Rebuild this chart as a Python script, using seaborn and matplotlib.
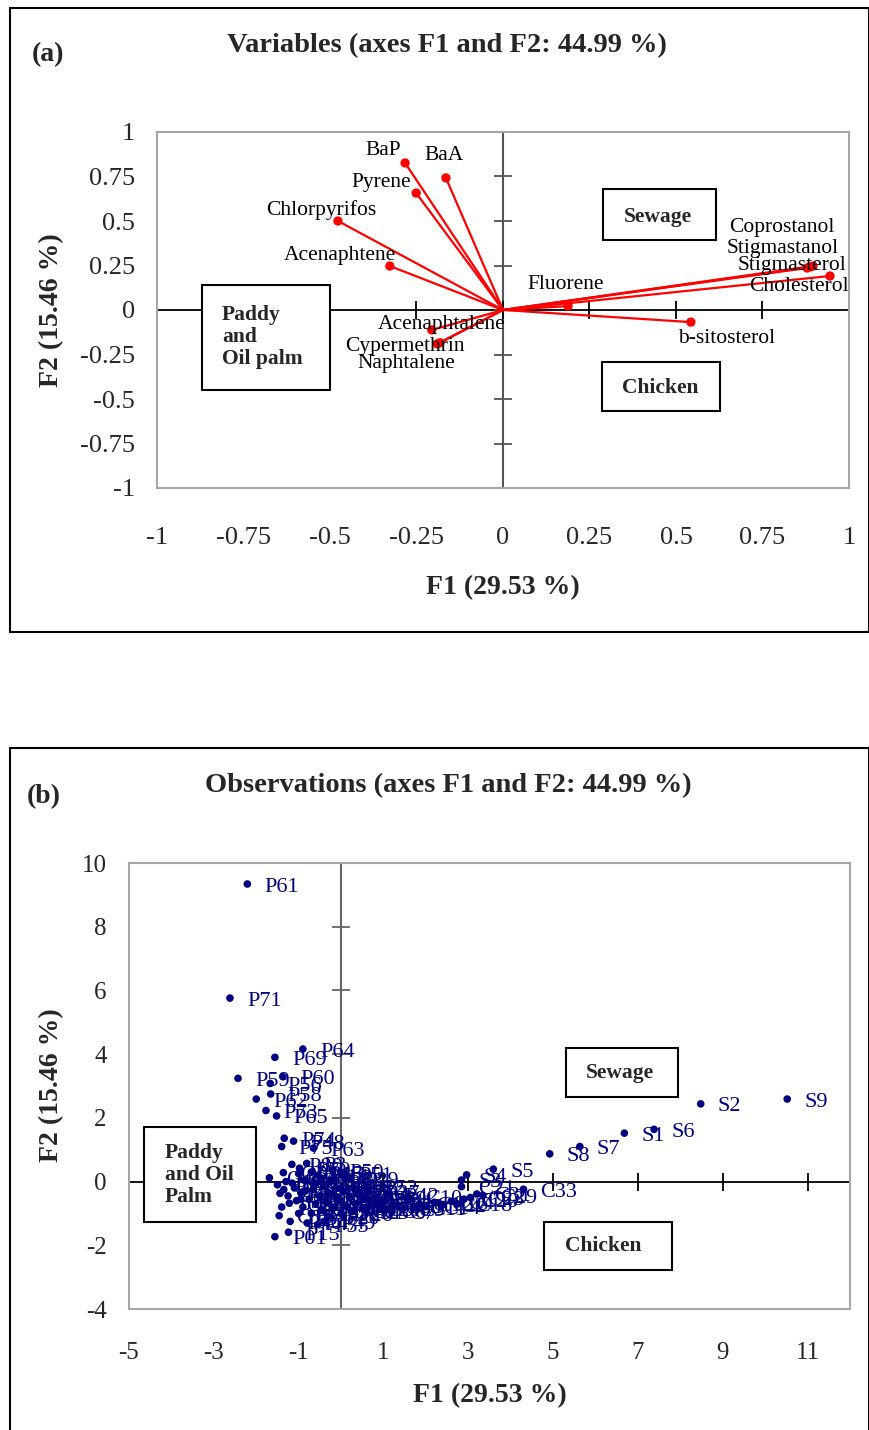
import numpy as np
import matplotlib
matplotlib.use("Agg")
import matplotlib.pyplot as plt
import seaborn as sns
from matplotlib.patches import Rectangle

sns.set_style("white")
plt.rcParams['font.family'] = ['Liberation Serif', 'DejaVu Serif']
plt.rcParams['axes.unicode_minus'] = False

# ---- (a) variables: loadings on F1 / F2 ----
var_names = ["BaP", "BaA", "Pyrene", "Chlorpyrifos", "Acenaphtene", "Acenaphtalene",
             "Cypermethrin", "Naphtalene", "Fluorene", "Coprostanol", "Stigmastanol",
             "Stigmasterol", "Cholesterol", "b-sitosterol"]
var_f1 = [-0.283, -0.165, -0.251, -0.477, -0.327, -0.206, -0.182, -0.19, 0.188,
          0.879, 0.888, 0.896, 0.945, 0.543]
var_f2 = [0.826, 0.742, 0.657, 0.500, 0.247, -0.112, -0.184, -0.19, 0.022,
          0.236, 0.242, 0.247, 0.191, -0.068]

var_ticks = [-1, -0.75, -0.5, -0.25, 0, 0.25, 0.5, 0.75, 1]
var_tick_labels = ["-1", "-0.75", "-0.5", "-0.25", "0", "0.25", "0.5", "0.75", "1"]

# ---- (b) observations: scores on F1 / F2 ----
obs_names = ["P61", "P71", "P64", "P69", "P59", "P60", "P56", "P58", "P62", "P73",
             "P65", "P74", "P48", "P75", "P63", "P80", "P70", "P3", "P01", "P15",
             "O10", "O2", "O3", "O4", "O5",
             "P1", "P2", "P4", "P5", "P6", "P7", "P8", "P9", "P10", "P11",
             "P12", "P13", "P14", "P16", "P17", "P18", "P19", "P20", "P21", "P22",
             "P23", "P24", "P25", "P26", "P27", "P28", "P29", "P30", "P31", "P32",
             "P33", "P34", "P35", "P36", "P37", "P38", "P39", "P40", "P41", "P42",
             "P43", "P44", "P45", "P46", "P47", "P49", "P50", "P51", "P52", "P53",
             "P54", "P55", "P57", "P66", "P67", "P68", "P72", "P76", "P77", "P78", "P79",
             "C1", "C3", "C5", "C6", "C7", "C8", "C9", "C10", "C11", "C12",
             "C14", "C16", "C2", "C4", "C18", "C20", "C21", "C23", "C31", "C29", "C33",
             "S3", "S4", "S5", "S8", "S7", "S1", "S6", "S2", "S9"]
obs_f1 = [-2.21, -2.62, -0.90, -1.56, -2.43, -1.37, -1.67, -1.66, -2.00, -1.77,
          -1.52, -1.34, -1.12, -1.40, -0.65, -1.16, -0.98, -0.81, -1.56, -1.24,
          -1.46, -1.22, -1.44, -1.69, -1.36,
          -1.50, -1.35, -1.25, -1.10, -1.05, -0.95, -0.90, -0.85, -0.75, -0.70,
          -0.65, -0.60, -0.55, -0.50, -0.45, -0.40, -0.35, -0.30, -0.25, -0.20,
          -0.15, -0.10, -0.05, 0.00, 0.05, 0.10, 0.15, 0.20, 0.25, 0.30,
          0.35, 0.40, 0.50, 0.55, 0.65, 0.70, 0.80, 0.90, 1.00, 1.10,
          1.20, -1.00, -0.70, -1.20, -0.80, -0.40, -0.20, 0.00, 0.60, -0.20,
          -1.40, -0.55, -1.00, -1.30, -0.95, -0.60, -0.30, -1.15, -0.85, -0.45, -0.10,
          0.30, 0.60, 0.85, 1.00, 1.20, 1.35, 1.45, 1.58, 1.70, 1.85,
          2.00, 2.20, 2.40, 2.60, 2.75, 2.90, 2.84, 3.05, 3.20, 3.34, 4.30,
          2.84, 2.96, 3.59, 4.92, 5.63, 6.68, 7.38, 8.48, 10.52]
obs_f2 = [9.34, 5.76, 4.16, 3.90, 3.24, 3.29, 3.08, 2.75, 2.59, 2.23,
          2.06, 1.36, 1.27, 1.10, 1.05, 0.54, 0.42, 0.57, -1.73, -1.59,
          -1.07, -0.68, -0.37, 0.12, 0.28,
          -0.10, -0.25, -0.45, -0.20, -0.60, -0.35, -0.80, 0.05, -0.55, -1.00,
          -0.25, -0.70, 0.20, -0.45, -0.90, -0.15, -0.65, -1.10, 0.00, -0.40,
          -0.80, -0.20, -0.60, -1.00, -0.30, -0.75, 0.10, -0.50, -0.95, -0.20,
          -0.70, -0.40, -0.85, -0.55, -0.30, -0.75, -0.50, -0.85, -0.60, -0.40,
          -0.75, 0.25, 0.30, -1.25, -1.30, -1.25, 0.35, 0.25, -0.15, 0.05,
          -0.80, -1.35, -1.00, 0.00, -0.55, -0.05, -0.35, -0.05, -0.30, 0.10, -0.50,
          -0.90, -0.95, -0.70, -0.90, -0.95, -0.75, -0.85, -0.48, -0.80, -0.70,
          -0.78, -0.65, -0.72, -0.62, -0.70, -0.55, -0.16, -0.50, -0.39, -0.43, -0.24,
          0.05, 0.21, 0.39, 0.87, 1.10, 1.52, 1.64, 2.44, 2.59]

obs_xticks = [-5, -3, -1, 1, 3, 5, 7, 9, 11]
obs_yticks = [-4, -2, 0, 2, 4, 6, 8, 10]

# label offsets for panel (a), in pixels (dx, dy) from the point to text centre
var_offsets = {"BaP": (-22, 12), "BaA": (-2, 22), "Pyrene": (-35, 11),
               "Chlorpyrifos": (-17, 11), "Acenaphtene": (-50, 11),
               "Acenaphtalene": (10, 5), "Cypermethrin": (-35, -4),
               "Naphtalene": (-31, -20), "Fluorene": (-2, 22),
               "Coprostanol": (-25, 40), "Stigmastanol": (-28, 18),
               "Stigmasterol": (-21, 1), "Cholesterol": (-31, -10),
               "b-sitosterol": (36, -16)}

W, H = 870, 1430
fig = plt.figure(figsize=(W / 100, H / 100), dpi=100)


def fx(px):
    return px / W


def fy(py):
    return 1 - py / H


def box(x0, y0, x1, y1, lw=1.5, ec="black", fill=False):
    fig.add_artist(Rectangle((fx(x0), fy(y1)), fx(x1) - fx(x0), fy(y0) - fy(y1),
                             transform=fig.transFigure, fill=fill, fc="white",
                             lw=lw, ec=ec, zorder=2))


def cross_axes(ax, xt, yt, xcol, ycol):
    # zero lines through the origin with cross ticks on them
    ax.axhline(0, color=xcol, lw=1.3, zorder=1)
    ax.axvline(0, color=ycol, lw=1.5, zorder=1)
    ax.plot(np.zeros(len(yt)), yt, ls="none", marker="_", ms=13, mew=1.3,
            color=ycol, zorder=1, clip_on=False)
    ax.plot(xt, np.zeros(len(xt)), ls="none", marker="|", ms=13, mew=1.3,
            color=xcol, zorder=1, clip_on=False)
    for s in ax.spines.values():
        s.set_color("#a6a6a6")
        s.set_linewidth(1.5)
        s.set_visible(True)


# ---------------- panel (a) ----------------
box(10, 8, 869, 632)
ax1 = fig.add_axes([fx(157), fy(488), fx(849) - fx(157), fy(132) - fy(488)])
ax1.set_xlim(-1, 1)
ax1.set_ylim(-1, 1)
for x, y in zip(var_f1, var_f2):
    ax1.plot([0, x], [0, y], color="red", lw=1.6, zorder=3)
sns.scatterplot(x=var_f1, y=var_f2, ax=ax1, color="red", s=45, edgecolor="none", zorder=4)
for name, x, y in zip(var_names, var_f1, var_f2):
    dx, dy = var_offsets[name]
    ax1.annotate(name, (x, y), xytext=(dx, dy), textcoords="offset pixels",
                 ha="center", va="center", fontsize=15.5, color="black", zorder=5)
cross_axes(ax1, var_ticks, var_ticks, "black", "#555555")
ax1.set_xticks(var_ticks)
ax1.set_xticklabels(var_tick_labels)
ax1.set_yticks(var_ticks)
ax1.set_yticklabels(var_tick_labels)
ax1.tick_params(axis="y", length=0, pad=16, labelsize=19)
ax1.tick_params(axis="x", length=0, pad=28, labelsize=19)

fig.text(fx(447), fy(46), "Variables (axes F1 and F2: 44.99 %)", ha="center", va="center",
         fontsize=20.5, fontweight="bold")
fig.text(fx(48), fy(55), "(a)", ha="center", va="center", fontsize=20, fontweight="bold")
fig.text(fx(503), fy(588), "F1 (29.53 %)", ha="center", va="center", fontsize=20,
         fontweight="bold")
fig.text(fx(52), fy(310), "F2 (15.46 %)", ha="center", va="center", rotation=90,
         fontsize=20, fontweight="bold")

box(202, 285, 330, 390, fill=True)
fig.text(fx(222), fy(337), "Paddy\nand\nOil palm", ha="left", va="center", fontsize=15.5,
         fontweight="bold", linespacing=1.15, zorder=3)
box(603, 189, 716, 240, fill=True)
fig.text(fx(658), fy(217), "Sewage", ha="center", va="center", fontsize=15.5,
         fontweight="bold", zorder=3)
box(602, 362, 720, 411, fill=True)
fig.text(fx(660), fy(388), "Chicken", ha="center", va="center", fontsize=15.5,
         fontweight="bold", zorder=3)

# ---------------- panel (b) ----------------
box(10, 748, 869, 1445)
ax2 = fig.add_axes([fx(129), fy(1309), fx(850) - fx(129), fy(863) - fy(1309)])
ax2.set_xlim(-5, 12)
ax2.set_ylim(-4, 10)
sns.scatterplot(x=obs_f1, y=obs_f2, ax=ax2, color="#000080", s=30, edgecolor="none", zorder=4)
for name, x, y in zip(obs_names, obs_f1, obs_f2):
    ax2.annotate(name, (x, y), xytext=(17, -3), textcoords="offset pixels",
                 ha="left", va="center", fontsize=16, color="#000080", zorder=5)
cross_axes(ax2, obs_xticks, obs_yticks, "black", "#666666")
ax2.set_xticks(obs_xticks)
ax2.set_yticks(obs_yticks)
ax2.tick_params(axis="y", length=0, pad=16, labelsize=18)
ax2.tick_params(axis="x", length=0, pad=24, labelsize=18)

fig.text(fx(448), fy(786), "Observations (axes F1 and F2: 44.99 %)", ha="center",
         va="center", fontsize=20.5, fontweight="bold")
fig.text(fx(44), fy(797), "(b)", ha="center", va="center", fontsize=20, fontweight="bold")
fig.text(fx(490), fy(1396), "F1 (29.53 %)", ha="center", va="center", fontsize=20,
         fontweight="bold")
fig.text(fx(52), fy(1085), "F2 (15.46 %)", ha="center", va="center", rotation=90,
         fontsize=20, fontweight="bold")

box(144, 1127, 256, 1222, fill=True)
fig.text(fx(165), fy(1175), "Paddy\nand Oil\nPalm", ha="left", va="center", fontsize=15.5,
         fontweight="bold", linespacing=1.15, zorder=3)
box(566, 1048, 678, 1097, fill=True)
fig.text(fx(620), fy(1073), "Sewage", ha="center", va="center", fontsize=15.5,
         fontweight="bold", zorder=3)
box(544, 1222, 672, 1270, fill=True)
fig.text(fx(603), fy(1246), "Chicken", ha="center", va="center", fontsize=15.5,
         fontweight="bold", zorder=3)

fig.savefig("out.png", dpi=100)
